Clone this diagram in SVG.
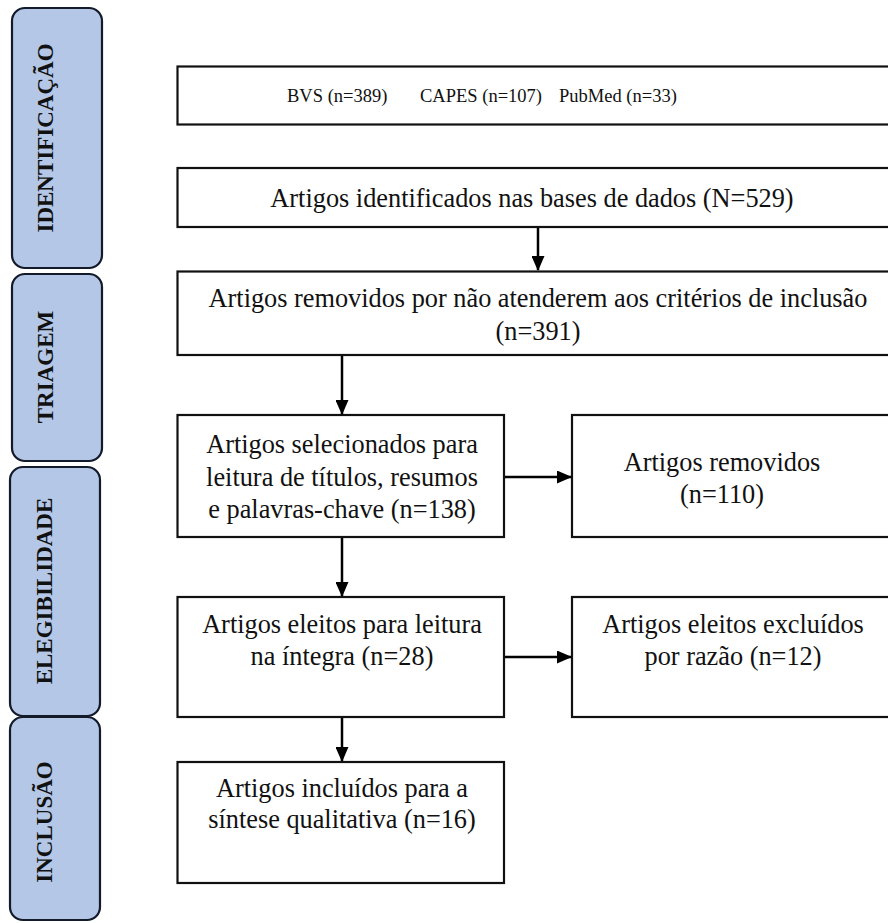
<svg xmlns="http://www.w3.org/2000/svg" width="888" height="923" viewBox="0 0 888 923">
<defs>
<style>
.phase{fill:#b4c7e7;stroke:#131a2a;stroke-width:2.2}
.phase-label{font-family:'Liberation Serif','Times New Roman',serif;font-weight:bold;font-size:23px;fill:#111;text-anchor:middle}
.box{fill:#fff;stroke:#111;stroke-width:2.2}
.box-label{font-family:'Liberation Serif','Times New Roman',serif;font-size:28px;fill:#111;text-anchor:middle}
.src-label{font-family:'Liberation Serif','Times New Roman',serif;font-size:19.7px;fill:#111}
.conn{stroke:#000;stroke-width:2.5;fill:none;marker-end:url(#ah)}
</style>
<marker id="ah" markerWidth="6" markerHeight="5.2" refX="5.6" refY="2.6" orient="auto" markerUnits="strokeWidth">
<path d="M0,0 L6,2.6 L0,5.2 Z" fill="#000"/>
</marker>
</defs>
<g id="phase-identificacao"><rect class="phase" x="12" y="8" width="90" height="260" rx="13"/><text class="phase-label" transform="translate(53,138) rotate(-90)">IDENTIFICAÇÃO</text></g>
<g id="phase-triagem"><rect class="phase" x="12" y="274" width="90" height="187" rx="13"/><text class="phase-label" transform="translate(53,367) rotate(-90)">TRIAGEM</text></g>
<g id="phase-elegibilidade"><rect class="phase" x="10" y="467" width="90" height="249" rx="13"/><text class="phase-label" transform="translate(52,591) rotate(-90)">ELEGIBILIDADE</text></g>
<g id="phase-inclusao"><rect class="phase" x="10" y="717" width="90" height="203" rx="13"/><text class="phase-label" transform="translate(52,822) rotate(-90)">INCLUSÃO</text></g>

<g id="bases"><rect class="box" x="177.5" y="66.5" width="730" height="58"/>
<text class="src-label" transform="translate(287 102) scale(.94 1)">BVS (n=389)</text>
<text class="src-label" transform="translate(420 102) scale(.94 1)">CAPES (n=107)</text>
<text class="src-label" transform="translate(559 102) scale(.94 1)">PubMed (n=33)</text></g>
<g id="identificados"><rect class="box" x="177.5" y="168" width="730" height="59"/>
<text class="box-label" transform="translate(532 207) scale(.94 1)">Artigos identificados nas bases de dados (N=529)</text></g>
<g id="removidos-criterios"><rect class="box" x="177.5" y="271.5" width="730" height="83.5"/>
<text class="box-label" transform="translate(538 307) scale(.94 1)">Artigos removidos por não atenderem aos critérios de inclusão</text>
<text class="box-label" transform="translate(538 340) scale(.94 1)">(n=391)</text></g>
<g id="selecionados"><rect class="box" x="177.5" y="415" width="326.5" height="122"/>
<text class="box-label" transform="translate(342 453) scale(.94 1)">Artigos selecionados para</text>
<text class="box-label" transform="translate(342 486) scale(.94 1)">leitura de títulos, resumos</text>
<text class="box-label" transform="translate(342 518) scale(.94 1)">e palavras-chave (n=138)</text></g>
<g id="removidos"><rect class="box" x="572" y="415" width="330" height="122"/>
<text class="box-label" transform="translate(722 471) scale(.94 1)">Artigos removidos</text>
<text class="box-label" transform="translate(722 503) scale(.94 1)">(n=110)</text></g>
<g id="eleitos"><rect class="box" x="177.5" y="597" width="326.5" height="120"/>
<text class="box-label" transform="translate(342 633) scale(.94 1)">Artigos eleitos para leitura</text>
<text class="box-label" transform="translate(342 665) scale(.94 1)">na íntegra (n=28)</text></g>
<g id="excluidos"><rect class="box" x="572" y="597" width="330" height="120"/>
<text class="box-label" transform="translate(733 633) scale(.94 1)">Artigos eleitos excluídos</text>
<text class="box-label" transform="translate(733 665) scale(.94 1)">por razão (n=12)</text></g>
<g id="incluidos"><rect class="box" x="177.5" y="762" width="326.5" height="121"/>
<text class="box-label" transform="translate(342 797) scale(.94 1)">Artigos incluídos para a</text>
<text class="box-label" transform="translate(342 828) scale(.94 1)">síntese qualitativa (n=16)</text></g>

<g id="connectors">
<line class="conn" x1="538" y1="228" x2="538" y2="270"/>
<line class="conn" x1="342" y1="356" x2="342" y2="414"/>
<line class="conn" x1="342" y1="538" x2="342" y2="596"/>
<line class="conn" x1="342" y1="718" x2="342" y2="761"/>
<line class="conn" x1="505" y1="477" x2="571" y2="477"/>
<line class="conn" x1="505" y1="657" x2="571" y2="657"/>
</g>
</svg>
